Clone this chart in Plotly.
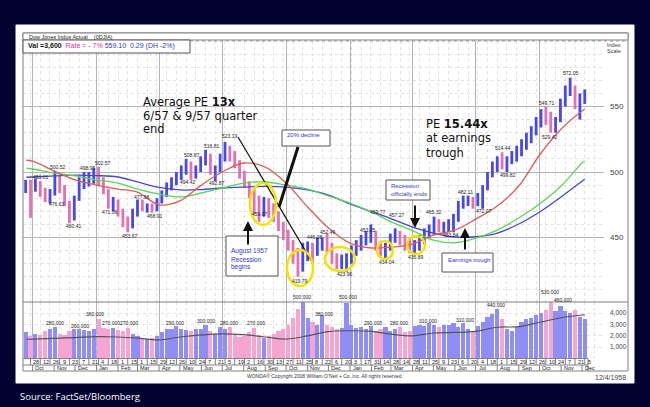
import pandas as pd
import plotly.graph_objects as go

W, H = 650, 407
def X(px): return px / W
def Y(py): return 1 - py / H

ORIGIN = pd.Timestamp("1958-01-01")
PX_ORIGIN, PX_PER_DAY = 350.0, 0.6945
def pxdate(px): return ORIGIN + pd.Timedelta(days=(px - PX_ORIGIN) / PX_PER_DAY)

# ---------------- data ----------------
WEEK_START = "1956-09-21"
LOW = [484,465,485,481,477,476,482,484,474,461,463,478,487,489,491,490,483,472,470,466,
       458,454,457,466,470,469,469,470,476,481,486,490,494,498,494,495,500,505,498,493,
       500,508,508,503,495,488,480,468,462,466,465,462,455,448,440,430,420,424,432,430,
       436,440,438,430,426,426,424,430,436,440,444,446,440,436,434,440,446,444,440,438,
       437,440,445,450,452,454,453,454,454,462,472,474,472,474,472,486,496,500,502,500,
       506,508,512,517,522,528,534,536,530,530,538,550,558,548,540,552]
HIGH = [494,494,495,493,488,487,501,497,490,478,482,496,500,500,503,504,496,487,481,479,
        472,466,472,479,479,476,476,480,486,492,496,500,505,510,508,505,512,517,514,505,
        514,523,520,516,509,501,493,487,482,481,480,476,470,462,456,448,442,446,447,446,
        450,450,453,446,438,437,438,444,448,452,455,460,455,447,446,453,457,455,452,450,
        448,452,457,460,466,464,462,464,468,478,482,482,481,484,490,500,508,512,515,512,
        516,520,525,530,535,542,548,550,546,542,556,566,572,566,560,563]
CLOSE = [490,488,491,484,480,484,495,488,478,465,479,492,495,497,500,494,485,476,477,470,
         462,458,469,474,472,474,471,478,484,490,494,497,502,506,497,503,509,513,502,502,
         511,518,512,507,498,491,484,472,470,477,470,466,458,452,444,435,432,438,443,436,
         446,446,444,434,430,430,434,440,445,448,450,452,443,439,443,450,452,448,445,442,
         444,449,454,456,460,458,458,460,465,474,478,478,476,478,488,498,505,508,506,510,
         512,517,520,527,532,538,545,544,534,538,552,562,565,552,556,559]
VOLUME = [2300,2000,2200,2100,2400,2600,2800,2200,2100,2400,2600,2600,2500,2400,2600,3500,2700,2600,2700,2500,
          2400,2700,2200,2000,1800,1700,1800,2000,2300,2600,2600,2900,2600,2500,2400,2600,2600,3000,2400,2200,
          2800,2600,2800,2100,1900,2000,2300,2700,2100,1800,2000,2200,2400,2600,3000,3600,4400,5000,3600,3200,
          3000,3800,3000,2800,2600,2700,4900,3000,2700,2800,2600,2900,2400,2600,2800,2400,2600,2800,2300,2400,
          2900,3000,2900,3100,3000,2800,3000,3000,3100,2800,3100,2600,2400,2900,3200,3700,3900,4400,3500,2600,
          2400,2800,3200,3500,3600,3800,4000,4300,5300,4200,4600,4200,4000,4300,3700,3500]

MA_DATES = ["1956-09-22","1956-10-01","1956-11-01","1956-12-01","1957-01-01","1957-02-01","1957-03-01",
            "1957-04-01","1957-05-01","1957-06-01","1957-07-01","1957-08-01","1957-09-01","1957-10-01",
            "1957-11-01","1957-12-01","1958-01-01","1958-02-01","1958-03-01","1958-04-01","1958-05-01",
            "1958-06-01","1958-07-01","1958-08-01","1958-09-01","1958-10-01","1958-11-01","1958-12-01","1958-12-05"]
MA_RED = [509,508.4,500.8,494,490,487,484.7,475,478,490,500,506.9,503.8,491.6,473.3,457.3,445.8,442,
          442.7,445,451.9,455.7,464,474,489.3,513,532.8,546.6,548]
MA_GREEN = [503,502.3,499.2,497,493.9,491.6,487,483.2,481,484,487.8,491.6,492.4,490,487,481.7,476.3,
            469.5,462,455.3,448,446,449.5,455.7,464.9,475.6,489.3,506.9,508.4]
MA_BLUE = [496,496.2,497,497.7,497.3,496.2,492.4,488.2,486.3,486.6,487.8,488.5,489,488.5,486.3,482.4,
           475.6,469.8,464.5,458,453.4,450.4,450.6,453.4,460.3,469.5,481,493,494.6]
VOL_AVG = [1700,1720,1780,1850,1930,1900,1800,1650,1900,2080,2180,2100,1900,1720,2000,2380,2450,2400,
           2150,2000,2250,2300,2400,2760,2810,3200,3600,3840,3860]

PRICE_TICKS = [450, 500, 550]
VOL_TICKS = [1000, 2000, 3000, 4000]
VOL_TICK_TEXT = ["1,000", "2,000", "3,000", "4,000"]

PEAK_TEXT = ["493.01","476.63","500.52","460.41","498.95","502.57","471.06","453.67","477.68","468.91",
             "508.87","494.42","516.81","492.87","523.19","459.07","446.08","419.79","452.49","423.96",
             "453.25","459.77","434.04","457.27","436.89","465.32","453.84","482.11","472.07","514.44",
             "499.82","549.71","529.42","572.05"]
VOL_PEAK_TEXT = ["280,000","260,000","360,000","270,000","270,000","290,000","300,000","280,000","270,000",
                 "500,000","380,000","500,000","290,000","280,000","310,000","310,000","440,000","530,000","460,000"]

# ---------------- layout positions of the labels (pixels) ----------------
PEAK_POS = [(41,177),(57,204),(58,167),(74,226),(88,168),(103,163),(110,212),(130,236),(142,197),(155,216),
            (192,155),(188,182),(212,146),(217,183),(230,136),(260,214),(315,237),(300,281),(328,232),(345,274),
            (368,230),(378,212),(387,262),(397,215),(416,257),(434,212),(451,235),(465,192),(484,211),(503,148),
            (508,175),(547,103),(550,137),(571,73)]
VOL_PEAK_POS = [(55,323),(80,326),(95,314),(111,323),(129,323),(175,323),(206,321),(229,323),(256,323),
                (302,297),(324,314),(348,297),(373,323),(399,323),(428,321),(465,320),(496,305),(550,292),(563,300)]

weeks = pd.date_range(WEEK_START, periods=len(CLOSE), freq="7D")
assert len(LOW) == len(HIGH) == len(CLOSE) == len(VOLUME)

BLUE_BAR, PINK_BAR = "#4848e8", "#e46fb2"
BLUE_VOL, PINK_VOL = "#8e8ef6", "#f5a5d0"

up = [True] + [CLOSE[i] >= CLOSE[i - 1] for i in range(1, len(CLOSE))]

fig = go.Figure()
for flag, col in [(True, BLUE_BAR), (False, PINK_BAR)]:
    xs, ys = [], []
    for d, lo, hi, u in zip(weeks, LOW, HIGH, up):
        if u == flag:
            xs += [d, d, None]
            ys += [lo, hi, None]
    fig.add_trace(go.Scatter(x=xs, y=ys, mode="lines", line=dict(color=col, width=2.8),
                             hoverinfo="skip", xaxis="x", yaxis="y"))

for vals, col in [(MA_BLUE, "#4848c8"), (MA_GREEN, "#5ad45a"), (MA_RED, "#e05a5a")]:
    fig.add_trace(go.Scatter(x=pd.to_datetime(MA_DATES), y=vals, mode="lines",
                             line=dict(color=col, width=1.3, shape="spline"), hoverinfo="skip",
                             xaxis="x", yaxis="y"))

fig.add_trace(go.Bar(x=weeks, y=VOLUME, marker=dict(color=[BLUE_VOL if u else PINK_VOL for u in up], line_width=0),
                     width=6 * 86400000, xaxis="x2", yaxis="y2", hoverinfo="skip"))
fig.add_trace(go.Scatter(x=pd.to_datetime(MA_DATES), y=VOL_AVG, mode="lines",
                         line=dict(color="#555555", width=1.2, shape="spline"), hoverinfo="skip",
                         xaxis="x2", yaxis="y2"))

x_range = [pxdate(23), pxdate(604)]
grid = "#b4b4b4"
minor_grid = "#e2e2e2"
xcommon = dict(type="date", range=x_range, domain=[X(23), X(604)], showticklabels=False, ticks="",
               showgrid=True, gridcolor=grid, gridwidth=1, tick0="1956-10-01", dtick="M3",
               minor=dict(showgrid=True, gridcolor=minor_grid, griddash="dot", tick0="1956-09-28",
                          dtick=14 * 86400000),
               zeroline=False, showline=False)
fig.update_layout(
    width=W, height=H, margin=dict(l=0, r=0, t=0, b=0),
    paper_bgcolor="#020230", plot_bgcolor="white", showlegend=False, bargap=0,
    xaxis=dict(**xcommon, anchor="y"),
    xaxis2=dict(**xcommon, anchor="y2", matches="x"),
    yaxis=dict(domain=[Y(302), Y(41)], range=[400.8, 600], side="right", tickvals=PRICE_TICKS,
               tickfont=dict(size=8, color="#444", family="Liberation Sans"), ticks="", ticklabelstandoff=5,
               showgrid=True, gridcolor=grid, zeroline=False, anchor="x",
               minor=dict(showgrid=True, gridcolor=minor_grid, griddash="dot", dtick=10)),
    yaxis2=dict(domain=[Y(358.5), Y(302)], range=[0, 4990], side="right", tickvals=VOL_TICKS,
                ticktext=VOL_TICK_TEXT, tickfont=dict(size=6.5, color="#444", family="Liberation Sans"),
                ticks="", ticklabelstandoff=5, showgrid=True, gridcolor=minor_grid, griddash="dot",
                zeroline=False, anchor="x2"),
)

shapes = []
ann = []
def rect(x0, y0, x1, y1, line="#777", fill="rgba(0,0,0,0)", width=1, layer="above", dash=None):
    shapes.append(dict(type="rect", xref="paper", yref="paper", x0=X(x0), x1=X(x1), y0=Y(y0), y1=Y(y1),
                       line=dict(color=line, width=width, dash=dash), fillcolor=fill, layer=layer))
def line(x0, y0, x1, y1, color="#777", width=1, dash=None, layer="above"):
    shapes.append(dict(type="line", xref="paper", yref="paper", x0=X(x0), x1=X(x1), y0=Y(y0), y1=Y(y1),
                       line=dict(color=color, width=width, dash=dash), layer=layer))
def text(px, py, s, size=6, color="#222", family="Liberation Sans", xanchor="center", yanchor="middle"):
    ann.append(dict(x=X(px), y=Y(py), xref="paper", yref="paper", text=s, showarrow=False,
                    font=dict(size=size, color=color, family=family), xanchor=xanchor, yanchor=yanchor))

# white panel
rect(16, 25, 634, 383, line="white", fill="white", layer="below")
# frame
rect(23, 33, 628, 371, line="#808080")
line(23, 302, 628, 302, color="#808080")
line(190, 41, 628, 41, color="#999", dash="dot")
# header bar
rect(23, 33, 628, 40, line="#808080", fill="white")
text(27, 36.6, "Dow Jones Indus Actual&nbsp;&nbsp;&nbsp;&nbsp;(0DJIA)", size=5.5, xanchor="left")
# value box
rect(23, 40, 190, 53, line="#555", fill="white")
text(26, 46.5, "<b>Val =3,600</b>&nbsp;&nbsp;<span style='color:#e0309a'>Rate = - 7%</span>&nbsp;"
     "<span style='color:#3535c8'>559.10&nbsp;&nbsp;0.29 (DH -2%)</span>", size=7, xanchor="left", color="#111")
text(614, 45, "Index", size=5.5, color="#333")
text(614, 51, "Scale", size=5.5, color="#333")

# date rows
line(23, 365, 588, 365, color="#808080")
line(23, 358.5, 588, 358.5, color="#808080")
line(588, 358.5, 588, 371, color="#808080")
day_ticks = pd.date_range("1956-09-28", "1958-12-05", freq="14D")
for d in day_ticks:
    shapes.append(dict(type="line", xref="x2", yref="paper", x0=d, x1=d, y0=Y(358.5), y1=Y(365),
                       line=dict(color="#808080", width=1), layer="above"))
    ann.append(dict(x=d + pd.Timedelta(days=1.2), y=Y(362), xref="x2", yref="paper", text=str(d.day),
                    showarrow=False, xanchor="left", yanchor="middle",
                    font=dict(size=5.5, color="#222", family="Liberation Sans")))
month_ticks = pd.date_range("1956-10-01", "1958-12-01", freq="MS")
for d in month_ticks:
    shapes.append(dict(type="line", xref="x2", yref="paper", x0=d, x1=d, y0=Y(365), y1=Y(371),
                       line=dict(color="#808080", width=1), layer="above"))
    ann.append(dict(x=d + pd.Timedelta(days=1.2), y=Y(368.2), xref="x2", yref="paper", text=d.strftime("%b"),
                    showarrow=False, xanchor="left", yanchor="middle",
                    font=dict(size=5.5, color="#222", family="Liberation Sans")))

text(324, 375.5, "WONDA® Copyright 2008 William O'Neil + Co.,Inc. All rights reserved", size=5, color="#333")
text(628, 377, "12/4/1958", size=7, color="#444", xanchor="right")
text(18, 396, "Source: FactSet/Bloomberg", size=9.5, color="white", family="Open Sans", xanchor="left")

# peak labels
for s, (px, py) in zip(PEAK_TEXT, PEAK_POS):
    text(px, py, s, size=5, color="#222")
for s, (px, py) in zip(VOL_PEAK_TEXT, VOL_PEAK_POS):
    text(px, py, s, size=5, color="#222")

# commentary
big = "DejaVu Sans"
text(141, 102, "Average PE <b>13x</b>", size=11.5, color="#111", family=big, xanchor="left")
text(141, 116, "6/57 &amp; 9/57 quarter", size=11.5, color="#111", family=big, xanchor="left")
text(141, 129.5, "end", size=11.5, color="#111", family=big, xanchor="left")
text(424, 124, "PE <b>15.44x</b>", size=11.5, color="#111", family=big, xanchor="left")
text(424, 138.5, "at earnings", size=11.5, color="#111", family=big, xanchor="left")
text(424, 152.5, "trough", size=11.5, color="#111", family=big, xanchor="left")

# lines from the comment
line(238, 137, 312, 262, color="#111", width=1.2)
rect(282, 130, 330, 146, line="#555", fill="white")
text(285, 134.5, "20% decline", size=6, color="#3535c8", xanchor="left")
line(298, 147, 279, 207, color="#111", width=3)

rect(226, 236, 278, 276, line="#555", fill="white")
text(229, 251, "August 1957", size=6.5, color="#3535c8", xanchor="left")
text(229, 259, "Recession", size=6.5, color="#3535c8", xanchor="left")
text(229, 267, "begins", size=6.5, color="#3535c8", xanchor="left")

rect(386, 180, 430, 200, line="#555", fill="white")
text(389, 186, "Recession", size=6, color="#3535c8", xanchor="left")
text(389, 193.5, "officially ends", size=6, color="#3535c8", xanchor="left")

rect(442, 253, 493, 272, line="#555", fill="white")
text(446, 259.5, "Earnings trough", size=6, color="#3535c8", xanchor="left")

def arrow(px, tail_y, tip_y):
    ann.append(dict(x=X(px), y=Y(tip_y), ax=0, ay=tail_y - tip_y, xref="paper", yref="paper",
                    axref="pixel", ayref="pixel", showarrow=True, arrowhead=2, arrowsize=1,
                    arrowwidth=2, arrowcolor="#111", text=""))
arrow(248, 246, 221)
arrow(415, 204, 228)
arrow(465, 251, 228)

# yellow highlight ellipses
for cx, cy, rx, ry in [(263, 204, 13, 21), (300, 268, 13, 18), (340, 259, 15, 12), (385, 250, 8, 9), (416, 245, 9, 9)]:
    shapes.append(dict(type="circle", xref="paper", yref="paper", x0=X(cx - rx), x1=X(cx + rx),
                       y0=Y(cy + ry), y1=Y(cy - ry), line=dict(color="#f3e300", width=2.5), layer="above"))

fig.update_layout(shapes=shapes, annotations=ann)
fig.write_html("out.html")
